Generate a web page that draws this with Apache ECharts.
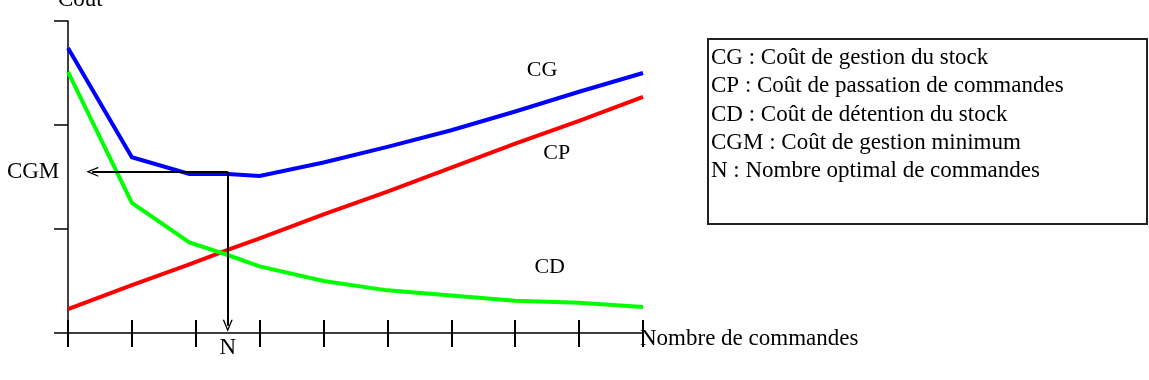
<!DOCTYPE html>
<html>
<head>
<meta charset="utf-8">
<script src="https://cdn.jsdelivr.net/npm/echarts@6/dist/echarts.min.js"></script>
<style>
  html, body { margin: 0; padding: 0; background: #fff; }
  #chart { width: 1149px; height: 380px; }
</style>
</head>
<body>
<div id="chart"></div>
<script>
// number of orders (x) and costs (y)
const xs = [0, 1, 1.9, 2.5, 3, 4, 5, 6, 7, 8, 9]
const cg = [2.74, 1.69, 1.53, 1.53, 1.51, 1.64, 1.79, 1.95, 2.13, 2.32, 2.50]
const cp = [0.23, 0.46, 0.66, 0.80, 0.91, 1.14, 1.36, 1.59, 1.82, 2.04, 2.27]
const cd = [2.51, 1.25, 0.87, 0.75, 0.64, 0.50, 0.41, 0.36, 0.31, 0.29, 0.25]

const optimumN = 2.5
const cgmValue = 1.55

const curveNames = ['CG', 'CP', 'CD']
const curveColors = ['#0000ff', '#ff0000', '#00ff00']
const curveLabelAt = [[7.42, 2.53], [7.65, 1.73], [7.54, 0.63]]

const legendLines = [
  'CG : Coût de gestion du stock',
  'CP : Coût de passation de commandes',
  'CD : Coût de détention du stock',
  'CGM : Coût de gestion minimum',
  'N : Nombre optimal de commandes',
]

const FONT = '"Liberation Serif", "Times New Roman", serif'
const FS = 23
const chart = echarts.init(document.getElementById('chart'))

function pairs(ys) {
  return xs.map((x, i) => [x, ys[i]])
}

const openArrow = 'path://M5,0 L10,10 L8.6,10 L5,2.6 L1.4,10 L0,10 Z'

const series = [cg, cp, cd].map((ys, i) => ({
  name: curveNames[i],
  type: 'line',
  data: pairs(ys),
  showSymbol: false,
  animation: false,
  lineStyle: { color: curveColors[i], width: 4, join: 'miter' },
  markPoint: {
    symbol: 'circle',
    symbolSize: 1,
    itemStyle: { color: 'rgba(0,0,0,0)' },
    label: {
      show: true,
      position: 'inside',
      formatter: curveNames[i],
      color: '#000',
      fontFamily: FONT,
      fontSize: 22,
    },
    data: [{ coord: curveLabelAt[i] }],
  },
}))

// arrows from the optimum point to each axis
series[0].markLine = {
  silent: true,
  symbol: ['none', openArrow],
  symbolSize: [10, 12],
  lineStyle: { color: '#000', width: 2, type: 'solid' },
  label: {
    show: true,
    position: 'end',
    color: '#000',
    fontFamily: FONT,
    fontSize: FS,
  },
  data: [
    [
      { coord: [optimumN, cgmValue] },
      { coord: [0.38, cgmValue], label: { formatter: 'CGM', distance: 33 } },
    ],
    [
      { coord: [optimumN, cgmValue] },
      { coord: [optimumN, 0.07], label: { formatter: 'N', distance: 11 } },
    ],
  ],
}

const xBase = {
  type: 'value',
  min: 0,
  max: 9,
  interval: 1,
  position: 'bottom',
  axisLabel: { show: false },
  splitLine: { show: false },
}

chart.setOption({
  backgroundColor: '#fff',
  animation: false,
  grid: { left: 68, right: 506, top: 21, bottom: 47 },
  xAxis: [
    {
      ...xBase,
      axisLine: { lineStyle: { color: '#000', width: 1.5 } },
      axisTick: { length: 14, lineStyle: { color: '#000', width: 2 } },
    },
    {
      ...xBase,
      axisLine: { show: false },
      axisTick: { inside: true, length: 13, lineStyle: { color: '#000', width: 2 } },
      name: 'Nombre de commandes',
      nameLocation: 'end',
      nameGap: -3,
      nameTextStyle: {
        color: '#000',
        fontFamily: FONT,
        fontSize: FS,
        align: 'left',
        verticalAlign: 'top',
        padding: [-6, 0, 0, 0],
      },
    },
  ],
  yAxis: {
    type: 'value',
    min: 0,
    max: 3,
    interval: 1,
    axisLine: { show: true, lineStyle: { color: '#000', width: 1.5 } },
    axisTick: { show: true, length: 14, lineStyle: { color: '#000', width: 1.5 } },
    axisLabel: { show: false },
    splitLine: { show: false },
  },
  graphic: [
    {
      type: 'text',
      style: {
        x: 58,
        y: 11,
        text: 'Coût',
        fill: '#000',
        font: FS + 'px ' + FONT,
        textVerticalAlign: 'bottom',
      },
    },
    {
      type: 'rect',
      shape: { x: 708, y: 39, width: 439, height: 185 },
      style: { fill: '#fff', stroke: '#222', lineWidth: 2 },
    },
    {
      type: 'text',
      style: {
        x: 711,
        y: 44,
        text: legendLines.join('\n'),
        fill: '#000',
        font: FS + 'px ' + FONT,
        lineHeight: 28.3,
        textVerticalAlign: 'top',
      },
    },
  ],
  series,
})
</script>
</body>
</html>
